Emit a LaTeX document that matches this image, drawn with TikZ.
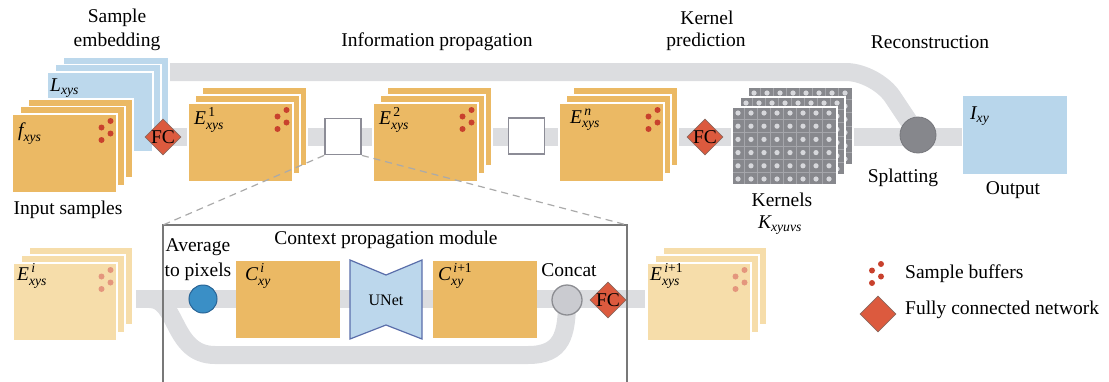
\documentclass[tikz,border=0pt]{standalone}
\usepackage{fix-cm}
\usepackage{amsmath}
\usepackage{fontspec}
\setmainfont{Liberation Serif}
\usetikzlibrary{shapes.geometric}
\definecolor{orc}{RGB}{235,185,100}
\definecolor{lorc}{RGB}{246,221,170}
\definecolor{bluec}{RGB}{188,216,236}
\definecolor{outb}{RGB}{184,214,235}
\definecolor{bandc}{RGB}{220,221,224}
\definecolor{dotc}{RGB}{200,65,45}
\definecolor{ldotc}{RGB}{228,150,125}
\definecolor{fcred}{RGB}{220,90,62}
\definecolor{fcb}{RGB}{140,105,95}
\definecolor{boxc}{RGB}{120,120,120}
\definecolor{dashc}{RGB}{170,170,170}
\definecolor{sqb}{RGB}{140,140,150}
\definecolor{kernc}{RGB}{135,136,141}
\definecolor{kdot}{RGB}{215,216,220}
\definecolor{kline}{RGB}{165,166,171}
\definecolor{splc}{RGB}{134,135,140}
\definecolor{splb}{RGB}{118,119,124}
\definecolor{conc}{RGB}{202,203,208}
\definecolor{conb}{RGB}{140,141,146}
\definecolor{avgc}{RGB}{58,143,198}
\definecolor{avgb}{RGB}{40,100,150}
\definecolor{unetc}{RGB}{188,215,236}
\definecolor{unetb}{RGB}{90,110,170}
\newcommand{\bigfont}{\fontsize{19.5}{22}\selectfont}
\newcommand{\mystack}[8]{%
  \node[#4,minimum width=#5pt,minimum height=#6pt,anchor=north west] (#1c) at ({#2+2*#7},{#3-2*#8}) {};
  \node[#4,minimum width=#5pt,minimum height=#6pt,anchor=north west] (#1b) at ({#2+#7},{#3-#8}) {};
  \node[#4,minimum width=#5pt,minimum height=#6pt,anchor=north west] (#1a) at (#2,#3) {};}
\newcommand{\sdots}[2]{%
  \begin{scope}[shift={#1}]
    \fill[#2] (-6.5,7) circle (3pt);
    \fill[#2] (-15.5,13.5) circle (3pt);
    \fill[#2] (-6.5,19.5) circle (3pt);
    \fill[#2] (-15.5,26) circle (3pt);
  \end{scope}}
\newcommand{\kcard}[3]{%
  \node[kcardst,anchor=north west] (#1) at (#2,#3) {};
  \begin{scope}[shift={(#1.north west)}]
    \foreach \i in {1,...,7} \draw[kline,line width=0.8pt] ({-0.5+13*\i},1) -- ({-0.5+13*\i},77);
    \foreach \j in {1,...,5} \draw[kline,line width=0.8pt] (1,{-0.6+13.2*\j}) -- (104,{-0.6+13.2*\j});
    \foreach \i in {0,...,7} \foreach \j in {0,...,5} \fill[kdot] ({6+13*\i},{6+13.2*\j}) circle (2.6pt);
  \end{scope}}
\begin{document}
\begin{tikzpicture}[x=1pt,y=-1pt,
  band/.style={draw=bandc,line width=18pt},
  ocard/.style={draw=white,line width=1.2pt,fill=orc,inner sep=0pt,outer sep=0pt},
  lcard/.style={ocard,fill=lorc},
  bcard/.style={ocard,fill=bluec},
  kcardst/.style={draw=white,line width=1.2pt,fill=kernc,minimum width=105pt,minimum height=78pt,inner sep=0pt,outer sep=0pt},
  lab/.style={font=\bigfont,inner sep=0pt},
  fc/.style={diamond,aspect=1,draw=fcb,fill=fcred,line width=0.8pt,minimum width=36pt,minimum height=36pt,inner sep=0pt},
  fctext/.style={font=\bigfont,inner sep=0pt},
  sq/.style={draw=sqb,fill=white,line width=1.8pt,minimum size=36pt,inner sep=0pt},
  modbox/.style={draw=boxc,line width=1.5pt},
  dsh/.style={draw=dashc,line width=1.2pt,dash pattern=on 7pt off 5pt},
  unetst/.style={draw=unetb,fill=unetc,line width=1.2pt}]
\useasboundingbox (0,0) rectangle (1109,381);
% ---------- bands ----------
\coordinate (tb1) at (160,72);
\coordinate (tb2) at (876,72);
\coordinate (spc) at (918,135);
\coordinate (mb1) at (120,137);
\coordinate (mb2) at (962,137);
\draw[band] (mb1) -- (mb2);
\draw[band,rounded corners=30pt] (tb1) -- (tb2) -- (spc);
\coordinate (cb1) at (136,299);
\coordinate (cb2) at (645,299);
\coordinate (cc) at (567,300);
\coordinate (lb1) at (150,299);
\coordinate (lb2) at (215,355);
\coordinate (lb3) at (528,355);
\draw[band] (cb1) -- (cb2);
\draw[band] (lb1) .. controls (178,299) and (172,355) .. (lb2) -- (lb3) .. controls (562,355) and (567,335) .. (cc);
% ---------- module box ----------
\coordinate (mbl) at (163,392);
\coordinate (mtl) at (163,225);
\coordinate (mtr) at (627,225);
\coordinate (mbr) at (627,392);
\draw[modbox] (mbl) -- (mtl) -- (mtr) -- (mbr);
% ---------- top row ----------
\mystack{L}{47}{72}{bcard}{106}{80}{8}{7.5}
\node[lab,anchor=west] (tL) at (50,88) {$\textit{L}_{\textit{xys}}$};
\mystack{f}{12}{114}{ocard}{105}{79}{8}{7.5}
\node[lab,anchor=west] (tf) at (18,134) {$\textit{f}_{\textit{xys}}$};
\sdots{(fa.north east)}{dotc}
\node[fc] (fc1) at (163,137) {};
\node[fctext] (fc1t) at (fc1) {FC};
\mystack{ea}{188}{103}{ocard}{105}{79}{7}{8}
\node[lab,anchor=west] (tea) at (194,120) {$\textit{E}^{\,\text{1}}_{\textit{xys}}$};
\sdots{(eaa.north east)}{dotc}
\node[sq] (sq1) at (343,136.5) {};
\mystack{eb}{373}{103}{ocard}{105}{79}{7}{8}
\node[lab,anchor=west] (teb) at (379,120) {$\textit{E}^{\,\text{2}}_{\textit{xys}}$};
\sdots{(eba.north east)}{dotc}
\node[sq] (sq2) at (526.5,136) {};
\mystack{en}{559}{103}{ocard}{105}{79}{7}{8}
\node[lab,anchor=west] (ten) at (570,120) {$\textit{E}^{\,\textit{n}}_{\textit{xys}}$};
\sdots{(ena.north east)}{dotc}
\node[fc] (fc2) at (705,137) {};
\node[fctext] (fc2t) at (fc2) {FC};
\kcard{kc}{748}{87}
\kcard{kb}{740}{97}
\kcard{ka}{732}{107}
\node[circle,fill=splc,draw=splb,line width=0.8pt,minimum size=36pt,inner sep=0pt] (spl) at (spc) {};
\node[ocard,draw=none,fill=outb,minimum width=104pt,minimum height=78pt,anchor=north west] (out) at (963,96) {};
\node[lab,anchor=west] (tI) at (970,116) {$\textit{I}_{\textit{xy}}$};
% dashed zoom lines
\draw[dsh] (sq1.south west) -- (mtl);
\draw[dsh] (sq1.south east) -- (mtr);
% ---------- bottom row ----------
\mystack{ei}{13}{263}{lcard}{104}{78}{8}{8}
\node[lab,anchor=west] (tei) at (17,276) {$\textit{E}^{\,\textit{i}}_{\textit{xys}}$};
\sdots{(eia.north east)}{ldotc}
\node[circle,fill=avgc,draw=avgb,line width=1pt,minimum size=28pt,inner sep=0pt] (avg) at (203,299) {};
\node[ocard,draw=none,minimum width=104pt,minimum height=77pt,anchor=north west] (ci) at (236,261) {};
\node[lab,anchor=west] (tci) at (245,276) {$\textit{C}^{\,\textit{i}}_{\textit{xy}}$};
\coordinate (unet) at (386,300);
\draw[unetst] (350,260) -- (386,275) -- (422,260) -- (422,339) -- (386,325) -- (350,339) -- cycle;
\node[font=\fontsize{16}{18}\selectfont,inner sep=0pt] (tunet) at (unet) {UNet};
\node[ocard,draw=none,minimum width=104pt,minimum height=77pt,anchor=north west] (cj) at (433,261) {};
\node[lab,anchor=west] (tcj) at (438,276) {$\textit{C}^{\,\textit{i}\text{+1}}_{\textit{xy}}$};
\node[circle,fill=conc,draw=conb,line width=1.3pt,minimum size=30pt,inner sep=0pt] (cat) at (cc) {};
\node[fc] (fc3) at (608,300) {};
\node[fctext] (fc3t) at (fc3) {FC};
\mystack{ej}{647}{263}{lcard}{104}{78}{8}{8}
\node[lab,anchor=west] (tej) at (650,276) {$\textit{E}^{\,\textit{i}\text{+1}}_{\textit{xys}}$};
\sdots{(eja.north east)}{ldotc}
% ---------- legend ----------
\coordinate (lgd) at (887.5,257);
\sdots{(lgd)}{dotc}
\node[fc] (lgfc) at (878,314) {};
\node[lab,anchor=west] (tSB) at (905,274) {Sample buffers};
\node[lab,anchor=west] (tFCN) at (905,310) {Fully connected network};
% ---------- labels ----------
\node[lab] (tSE1) at (117,18) {Sample};
\node[lab] (tSE2) at (117,42) {embedding};
\node[lab] (tIP) at (437,42) {Information propagation};
\node[lab] (tKP1) at (707,18) {Kernel};
\node[lab] (tKP2) at (706,42) {prediction};
\node[lab] (tRC) at (930,42) {Reconstruction};
\node[lab] (tIS) at (68,210) {Input samples};
\node[lab] (tSp) at (903,178) {Splatting};
\node[lab] (tOut) at (1013,190) {Output};
\node[lab] (tKer) at (782,200) {Kernels};
\node[lab] (tK) at (780,225) {$\textit{K}_{\textit{xyuvs}}$};
\node[lab] (tAv1) at (198,247) {Average};
\node[lab] (tAv2) at (198,272) {to pixels};
\node[lab] (tCat) at (569,270) {Concat};
\node[lab] (tCPM) at (386,240) {Context propagation module};
\end{tikzpicture}
\end{document}
